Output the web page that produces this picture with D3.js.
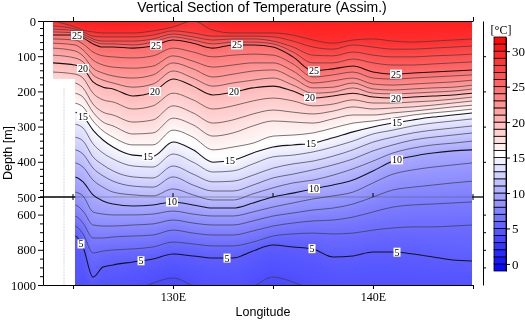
<!DOCTYPE html>
<html>
<head>
<meta charset="utf-8">
<script src="https://cdn.jsdelivr.net/npm/d3@7"></script>
<style>
  body { margin: 0; background: #fff; }
  #wrap { position: relative; width: 525px; height: 321px; }
  #wrap canvas, #wrap svg { position: absolute; left: 0; top: 0; }
</style>
</head>
<body>
<div id="wrap">
  <canvas id="field" width="525" height="321"></canvas>
  <svg id="chart" width="525" height="321"></svg>
</div>
<script>
// ---- section geometry (longitude in deg E, depth in m) ----
const stripLon = 124.0;       // shallow strip west of the main section
const dataLonStart = 125.12;  // full-depth section starts here
const dataLonEnd = 144.95;
const stripDepth = 163;       // strip only reaches this depth

// longitudes at which isotherm depths are given
const lonNodes = [124, 125.1, 125.5, 126, 126.5, 127, 128, 129, 130, 131, 132, 133, 134, 135, 136, 137, 138, 139, 140, 141, 142, 143, 144, 145];

// sea surface temperature at the nodes (degC)
const surfaceTemp = [30.0, 30.0, 30.1, 30.1, 30.1, 30.1, 30.1, 30.0, 29.8, 29.2, 29.8, 30.0, 30.0, 30.0, 30.0, 30.0, 30.0, 30.0, 30.0, 30.0, 30.0, 30.0, 30.0, 30.0];

// depth (m) of each isotherm at the nodes
const depth29 = [0, 17, 26, 31, 34, 34, 34, 28, 17, 0, 26, 34, 34, 34, 40, 54, 63, 54, 51, 57, 60, 57, 54, 51];
const depth28 = [14, 23, 31, 43, 45, 45, 45, 40, 28, 34, 43, 43, 43, 45, 57, 74, 80, 68, 74, 80, 80, 77, 74, 71];
const depth27 = [23, 28, 37, 51, 57, 57, 57, 51, 37, 45, 54, 51, 51, 57, 74, 97, 99, 88, 97, 102, 102, 99, 97, 94];
const depth26 = [31, 34, 43, 57, 65, 65, 68, 60, 45, 54, 65, 60, 60, 65, 88, 119, 119, 108, 119, 125, 125, 122, 119, 116];
const depth25 = [40, 40, 48, 65, 74, 74, 77, 71, 54, 63, 77, 68, 68, 74, 102, 142, 136, 128, 145, 151, 148, 145, 142, 139];
const depth24 = [51, 54, 65, 88, 99, 102, 105, 99, 77, 88, 102, 97, 94, 97, 122, 159, 153, 145, 162, 165, 162, 159, 156, 153];
const depth23 = [63, 68, 82, 111, 125, 131, 134, 128, 99, 114, 131, 125, 119, 119, 142, 176, 170, 162, 179, 182, 179, 176, 173, 168];
const depth22 = [77, 85, 99, 134, 148, 156, 162, 153, 119, 136, 159, 151, 142, 139, 162, 190, 188, 176, 193, 196, 193, 190, 188, 182];
const depth21 = [97, 105, 116, 153, 168, 176, 188, 179, 142, 162, 185, 176, 168, 162, 182, 205, 202, 190, 205, 207, 205, 202, 199, 193];
const depth20 = [119, 125, 134, 173, 188, 193, 213, 202, 165, 185, 210, 202, 190, 185, 199, 219, 213, 205, 216, 219, 216, 213, 210, 205];
const depth19 = [145, 151, 162, 205, 224, 230, 250, 241, 205, 224, 250, 241, 227, 219, 227, 241, 236, 224, 233, 233, 230, 227, 222, 216];
const depth18 = [168, 176, 190, 236, 259, 267, 287, 281, 241, 261, 290, 281, 264, 253, 259, 264, 256, 244, 250, 247, 244, 239, 233, 227];
const depth17 = [196, 205, 216, 259, 287, 298, 321, 318, 276, 295, 327, 318, 298, 284, 287, 290, 278, 267, 267, 261, 256, 250, 244, 239];
const depth16 = [224, 233, 244, 284, 312, 330, 352, 352, 310, 330, 366, 358, 347, 327, 324, 318, 304, 290, 284, 276, 267, 261, 256, 250];
const depth15 = [253, 259, 270, 310, 338, 358, 381, 384, 344, 366, 401, 395, 375, 358, 352, 347, 332, 315, 301, 290, 281, 273, 267, 261];
const depth14 = [287, 293, 304, 349, 375, 392, 412, 415, 378, 401, 429, 426, 406, 386, 381, 372, 358, 341, 321, 310, 298, 290, 284, 278];
const depth13 = [324, 330, 341, 386, 409, 426, 443, 446, 412, 435, 457, 455, 438, 418, 406, 398, 384, 366, 344, 330, 318, 310, 304, 298];
const depth12 = [361, 366, 378, 418, 440, 455, 469, 472, 443, 466, 483, 483, 466, 446, 435, 423, 409, 392, 369, 352, 338, 330, 324, 318];
const depth11 = [398, 403, 415, 452, 472, 486, 494, 497, 477, 494, 517, 517, 491, 474, 460, 452, 438, 420, 398, 375, 361, 352, 347, 341];
const depth10 = [438, 443, 457, 494, 523, 540, 551, 545, 528, 545, 563, 563, 534, 500, 489, 477, 466, 452, 426, 398, 384, 375, 369, 366];
const depth9  = [480, 486, 497, 585, 597, 602, 602, 597, 580, 597, 608, 608, 585, 557, 534, 511, 497, 486, 460, 435, 423, 415, 409, 403];
const depth8  = [540, 545, 580, 659, 665, 665, 659, 653, 631, 648, 659, 659, 636, 608, 591, 574, 563, 540, 500, 480, 472, 466, 460, 455];
const depth7  = [597, 608, 648, 733, 733, 727, 722, 716, 688, 705, 716, 716, 693, 665, 648, 636, 631, 614, 585, 557, 545, 540, 534, 528];
const depth6  = [653, 665, 710, 818, 807, 801, 795, 784, 756, 767, 778, 778, 756, 722, 710, 705, 710, 705, 688, 676, 670, 670, 665, 659];
const depth5  = [710, 722, 784, 955, 898, 886, 869, 852, 824, 835, 847, 847, 807, 773, 784, 795, 841, 835, 813, 813, 824, 841, 858, 864];
const depth4  = [1085, 1085, 1085, 1085, 1085, 1085, 1040, 989, 960, 1006, 1063, 1068, 1011, 955, 983, 1028, 1063, 1085, 1085, 1085, 1085, 1085, 1085, 1085];

const isotherms = [
  [29, depth29], [28, depth28], [27, depth27], [26, depth26], [25, depth25],
  [24, depth24], [23, depth23], [22, depth22], [21, depth21], [20, depth20],
  [19, depth19], [18, depth18], [17, depth17], [16, depth16], [15, depth15],
  [14, depth14], [13, depth13], [12, depth12], [11, depth11], [10, depth10],
  [9, depth9], [8, depth8], [7, depth7], [6, depth6], [5, depth5], [4, depth4]
];
const levels = isotherms.map(d => d[0]);

// contour labels: longitude and isotherm value
const labelLon   = [125.2, 129.15, 133.2, 137.05, 141.15, 125.5, 129.1, 133.05, 136.85, 141.15, 125.5, 128.75, 132.85, 136.9, 141.2, 129.95, 137.05, 141.2, 125.4, 128.4, 132.7, 136.95, 141.2];
const labelLevel = [25, 25, 25, 25, 25, 20, 20, 20, 20, 20, 15, 15, 15, 15, 15, 10, 10, 10, 5, 5, 5, 5, 5];

// axes
const depthMajor = [0, 100, 200, 300, 400, 500, 600, 800, 1000];
const depthMinor = [20, 40, 60, 80, 120, 140, 160, 180, 220, 240, 260, 280, 320, 340, 360, 380, 420, 440, 460, 480, 550, 650, 700, 750, 850, 900, 950];
const depthRight = [100, 200, 300, 400, 600, 700, 800, 900];
const lonTicks = [125, 130, 135, 140, 145];
const lonLabels = [130, 140];
const breakDepth = 500;

// colour bar
const cbMin = -1, cbMax = 32;
const cbTicks = [0, 5, 10, 15, 20, 25, 30];

const SANS = "'Liberation Sans', Arial, Helvetica, sans-serif";
const SERIF = "'Liberation Serif', 'Times New Roman', Times, serif";

// ---- scales ----
const x = d3.scaleLinear().domain([123.5, 145]).range([43, 473]);
const y = d3.scaleLinear().domain([0, 500, 1000]).range([21, 197, 285]);
const color = d3.scaleLinear().domain([-1, 15.5, 32]).range(["#0000ff", "#ffffff", "#ff0000"]).clamp(true);
const cb = d3.scaleLinear().domain([cbMin, cbMax]).range([271, 37]);

const svg = d3.select("#chart");
const defs = svg.append("defs");

// data region: shallow strip + full-depth section
const region = [[stripLon, 0], [dataLonEnd, 0], [dataLonEnd, 1000], [dataLonStart, 1000], [dataLonStart, stripDepth], [stripLon, stripDepth]];
defs.append("clipPath").attr("id", "dataClip")
  .append("path")
  .attr("d", "M" + region.map(p => x(p[0]) + "," + y(p[1])).join("L") + "Z");

// ---- isotherm lines ----
const line = d3.line()
  .x((d, i) => x(lonNodes[i]))
  .y(d => y(d))
  .curve(d3.curveMonotoneX);

// faint station line in the western gap
svg.append("line")
  .attr("x1", x(124.55)).attr("x2", x(124.55))
  .attr("y1", y(stripDepth) + 10).attr("y2", y(1000))
  .attr("stroke", "#d4d4ee").attr("stroke-width", 1).attr("stroke-dasharray", "2,1");

const gField = svg.append("g").attr("clip-path", "url(#dataClip)");

// depth-break guide line across the section
gField.append("line")
  .attr("x1", x(dataLonStart)).attr("x2", x(dataLonEnd))
  .attr("y1", y(breakDepth)).attr("y2", y(breakDepth))
  .attr("stroke", "rgba(80,80,80,0.45)").attr("stroke-width", 1);

const isoNodes = {};
isotherms.forEach(([lvl, depths]) => {
  const bold = lvl % 5 === 0;
  const p = gField.append("path")
    .datum(depths)
    .attr("d", line)
    .attr("fill", "none")
    .attr("stroke", bold ? "#141414" : "#3c3c3c")
    .attr("stroke-width", bold ? 1.05 : 0.7);
  isoNodes[lvl] = p.node();
});

// y position of each isotherm at every pixel column
function sampleColumns(node) {
  const len = node.getTotalLength();
  const pts = [];
  for (let s = 0; s < len; s += 0.5) {
    const q = node.getPointAtLength(s);
    pts.push([q.x, q.y]);
  }
  const e = node.getPointAtLength(len);
  pts.push([e.x, e.y]);
  const out = new Float32Array(525);
  let j = 0;
  for (let xi = 0; xi < 525; xi++) {
    const xc = xi + 0.5;
    while (j < pts.length - 2 && pts[j + 1][0] < xc) j++;
    const a = pts[j], b = pts[j + 1];
    const t = b[0] === a[0] ? 0 : Math.max(0, Math.min(1, (xc - a[0]) / (b[0] - a[0])));
    out[xi] = a[1] + t * (b[1] - a[1]);
  }
  return out;
}
const cols = {};
levels.forEach(l => { cols[l] = sampleColumns(isoNodes[l]); });

// ---- temperature shading ----
const sstAt = d3.scaleLinear().domain(lonNodes).range(surfaceTemp);
const lut = [];
for (let k = 0; k <= 3300; k++) {
  const c = d3.rgb(color(-1 + k * 0.01));
  lut.push([c.r, c.g, c.b]);
}
const ctx = document.getElementById("field").getContext("2d");
const img = ctx.createImageData(525, 321);
const yTop = y(0), yBot = y(1000);
for (let xi = Math.floor(x(stripLon)); xi < Math.ceil(x(dataLonEnd)); xi++) {
  const lon = x.invert(xi + 0.5);
  if (lon < stripLon || lon > dataLonEnd) continue;
  const yLimit = lon < dataLonStart ? y(stripDepth) : yBot;
  const ys = [];
  let prev = yTop;
  levels.forEach(l => { const v = Math.max(prev, cols[l][xi]); ys.push(v); prev = v; });
  const sst = sstAt(lon);
  for (let yi = Math.floor(yTop); yi < yLimit; yi++) {
    const yc = yi + 0.5;
    let T;
    if (yc <= ys[0]) {
      const span = ys[0] - yTop;
      T = span > 0.5 ? levels[0] + (sst - levels[0]) * (ys[0] - yc) / span : levels[0];
    } else {
      let k = 0;
      while (k < ys.length - 1 && ys[k + 1] < yc) k++;
      if (k === ys.length - 1) T = levels[k] - (yc - ys[k]) / 25;
      else {
        const a = ys[k], b = ys[k + 1];
        T = levels[k] - (b - a > 0 ? (yc - a) / (b - a) : 0);
      }
    }
    const idx = Math.max(0, Math.min(3300, Math.round((T + 1) * 100)));
    const c = lut[idx];
    const o = (yi * 525 + xi) * 4;
    img.data[o] = c[0]; img.data[o + 1] = c[1]; img.data[o + 2] = c[2]; img.data[o + 3] = 255;
  }
}
ctx.putImageData(img, 0, 0);

// ---- contour labels ----
const gLab = svg.append("g");
labelLon.forEach((lon, i) => {
  const lvl = labelLevel[i];
  const px = x(lon);
  const py = cols[lvl][Math.floor(px)];
  const t = gLab.append("text")
    .attr("x", px).attr("y", py)
    .attr("text-anchor", "middle").attr("dominant-baseline", "central")
    .style("font-family", SERIF).style("font-size", "10px")
    .text(lvl);
  const w = t.node().getComputedTextLength() + 2;
  gLab.insert("rect", "text")
    .attr("x", px - w / 2).attr("y", py - 4.5)
    .attr("width", w).attr("height", 9)
    .attr("fill", "#fff");
});
gLab.selectAll("text").raise();

// ---- axes ----
function styleAxis(g, size) {
  g.selectAll("text").style("font-family", SERIF).style("font-size", size).attr("fill", "#000");
  g.selectAll("line").attr("stroke", "#000");
  g.select(".domain").attr("stroke", "#000");
}

const axisLeftG = svg.append("g").attr("transform", "translate(43,0)")
  .call(d3.axisLeft(y).tickValues(depthMajor).tickSize(5).tickSizeOuter(0).tickPadding(2)
    .tickFormat(d3.format("d")));
styleAxis(axisLeftG, "12.5px");
const axisLeftMinorG = svg.append("g").attr("transform", "translate(43,0)")
  .call(d3.axisLeft(y).tickValues(depthMinor).tickSize(3).tickSizeOuter(0).tickFormat(""));
styleAxis(axisLeftMinorG, "12px");

const axisRightG = svg.append("g").attr("transform", "translate(483,0)")
  .call(d3.axisRight(y).tickValues(depthRight).tickSize(3).tickSizeOuter(0).tickFormat(""));
styleAxis(axisRightG, "12px");

const axisTopG = svg.append("g").attr("transform", "translate(0,21)")
  .call(d3.axisTop(x).tickValues(lonTicks).tickSize(4).tickSizeOuter(0).tickFormat(""));
styleAxis(axisTopG, "12px");

const axisBottomG = svg.append("g").attr("transform", "translate(0,285)")
  .call(d3.axisBottom(x).tickValues(lonTicks).tickSize(4).tickSizeOuter(0).tickPadding(3)
    .tickFormat(d => lonLabels.includes(d) ? d + "E" : ""));
styleAxis(axisBottomG, "12px");

// depth break markers at 500 m
const yb = y(breakDepth);
svg.append("line").attr("x1", 40).attr("x2", x(dataLonStart)).attr("y1", yb).attr("y2", yb)
  .attr("stroke", "#000").attr("stroke-width", 1.3);
svg.append("line").attr("x1", x(dataLonEnd)).attr("x2", 483).attr("y1", yb).attr("y2", yb)
  .attr("stroke", "#000").attr("stroke-width", 1.3);
svg.append("g").selectAll("line").data(lonTicks).join("line")
  .attr("x1", d => x(d)).attr("x2", d => x(d))
  .attr("y1", d => (d === 125 || d === 145) ? yb - 3 : yb - 4)
  .attr("y2", d => (d === 125 || d === 145) ? yb + 3 : yb)
  .attr("stroke", "#000").attr("stroke-width", 1);

// ---- titles ----
svg.append("text").attr("x", 262).attr("y", 12).attr("text-anchor", "middle")
  .style("font-family", SANS).style("font-size", "14px")
  .text("Vertical Section of Temperature (Assim.)");
svg.append("text").attr("x", 263).attr("y", 316).attr("text-anchor", "middle")
  .style("font-family", SANS).style("font-size", "12.5px")
  .text("Longitude");
svg.append("text").attr("transform", "translate(12,153) rotate(-90)").attr("text-anchor", "middle")
  .style("font-family", SANS).style("font-size", "12.5px")
  .text("Depth [m]");

// ---- colour bar ----
const gCb = svg.append("g");
gCb.selectAll("rect").data(d3.range(cbMin, cbMax)).join("rect")
  .attr("x", 494).attr("width", 12)
  .attr("y", d => cb(d + 1)).attr("height", d => cb(d) - cb(d + 1))
  .attr("fill", d => color(d + 0.5))
  .attr("stroke", "#000").attr("stroke-width", 0.8);
const cbAxisG = svg.append("g").attr("transform", "translate(506,0)")
  .call(d3.axisRight(cb).tickValues(cbTicks).tickSize(4).tickSizeOuter(0).tickPadding(2));
styleAxis(cbAxisG, "13px");
svg.append("text").attr("x", 501).attr("y", 34).attr("text-anchor", "middle")
  .style("font-family", SERIF).style("font-size", "12px")
  .text("[\u00b0C]");
</script>
</body>
</html>
